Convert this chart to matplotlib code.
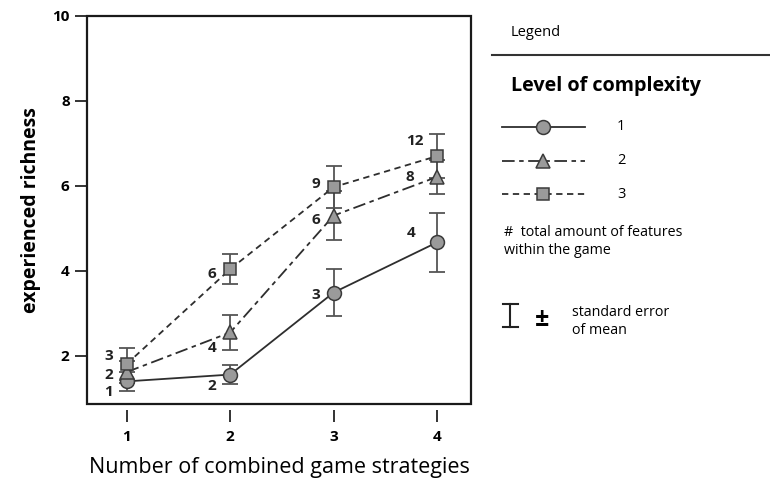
import matplotlib
matplotlib.use("Agg")
import matplotlib.pyplot as plt
from matplotlib.lines import Line2D
from matplotlib.patches import Rectangle

plt.rcParams["font.family"] = ["Open Sans", "DejaVu Sans"]

strategies = [1, 2, 3, 4]
levels = ["1", "2", "3"]

richness_l1 = [1.40, 1.56, 3.49, 4.67]
richness_l2 = [1.62, 2.55, 5.30, 6.21]
richness_l3 = [1.81, 4.04, 5.97, 6.70]

sem_l1 = [0.22, 0.23, 0.56, 0.70]
sem_l2 = [0.25, 0.42, 0.57, 0.40]
sem_l3 = [0.37, 0.36, 0.50, 0.51]

features_l1 = [1, 2, 3, 4]
features_l2 = [2, 4, 6, 8]
features_l3 = [3, 6, 9, 12]

INK = "#2e2e2e"
FILL = "#9a9a9a"

# (values, sem, feature counts, marker, size, linestyle, label offsets in pt)
series = [
    (richness_l1, sem_l1, features_l1, "o", 10.0, "-",
     [(-13, -8), (-13, -8.5), (-13, -2), (-19, 7)]),
    (richness_l2, sem_l2, features_l2, "^", 10.0, (0, (7, 2.5, 2.5, 2.5)),
     [(-13, -2), (-13, -11.5), (-13, -3.5), (-20, 0)]),
    (richness_l3, sem_l3, features_l3, "s", 8.5, (0, (3.5, 2.5)),
     [(-13, 6), (-13, -3.5), (-13, 2), (-16, 11)]),
]

fig = plt.figure(figsize=(7.7, 4.78), dpi=100)
ax = fig.add_axes([0.113, 0.155, 0.499, 0.812])

for ys, err, feats, marker, ms, ls, offs in series:
    ax.errorbar(strategies, ys, yerr=err, fmt="none", ecolor="#555555",
                elinewidth=1.3, capsize=5.5, capthick=1.3, zorder=2)
    ax.plot(strategies, ys, color=INK, linestyle=ls, linewidth=1.3,
            marker=marker, markersize=ms, markerfacecolor=FILL,
            markeredgecolor="#3a3a3a", markeredgewidth=1.1, zorder=3)
    for x, y, n, off in zip(strategies, ys, feats, offs):
        ax.annotate(str(n), (x, y), xytext=off, textcoords="offset points",
                    ha="center", va="center", fontsize=11, fontweight="bold",
                    color="#222222")

ax.set_xlim(0.616, 4.33)
ax.set_ylim(0.87, 10)
ax.set_xticks(strategies)
ax.set_yticks([2, 4, 6, 8, 10])

# box frame drawn separately so the x ticks can sit below it
for sp in ax.spines.values():
    sp.set_visible(False)
ax.spines["bottom"].set_position(("outward", 4.5))
ax.add_patch(Rectangle((0, 0), 1, 1, transform=ax.transAxes, fill=False,
                       edgecolor="#1a1a1a", linewidth=1.6, clip_on=False,
                       zorder=5))
ax.tick_params(axis="x", direction="out", length=8.5, width=1.4,
               color="#333333", pad=6, labelsize=11)
ax.tick_params(axis="y", direction="out", length=8.5, width=1.4,
               color="#333333", pad=4, labelsize=11)
for lab in ax.get_xticklabels() + ax.get_yticklabels():
    lab.set_fontweight("bold")

ax.set_ylabel("experienced richness", fontsize=14, fontweight="bold",
              labelpad=8)
ax.set_xlabel("Number of combined game strategies", fontsize=15.5,
              labelpad=9)

# legend panel, placed in pixel units of the figure
def fx(px):
    return px / 770


def fy(py):
    return 1 - py / 478


fig.text(fx(511), fy(32), "Legend", fontsize=10.5, va="center", ha="left")
fig.add_artist(Line2D([fx(492), fx(770)], [fy(55), fy(55)], color="#333333",
                      linewidth=1.5))
fig.text(fx(511), fy(86), "Level of complexity", fontsize=14.2,
         fontweight="bold", va="center", ha="left")

legend_rows = [127, 161, 194]
for (ys, err, feats, marker, ms, ls, offs), row, name in zip(series, legend_rows, levels):
    fig.add_artist(Line2D([fx(502), fx(585)], [fy(row), fy(row)], color=INK,
                          linestyle=ls, linewidth=1.3))
    fig.add_artist(Line2D([fx(543)], [fy(row)], marker=marker, markersize=ms,
                          markerfacecolor=FILL, markeredgecolor="#3a3a3a",
                          markeredgewidth=1.1, linestyle="none"))
    fig.text(fx(617), fy(row), name, fontsize=10.5, va="center", ha="left")

fig.text(fx(504), fy(233), "#  total amount of features", fontsize=10.3,
         va="center", ha="left")
fig.text(fx(504), fy(251), "within the game", fontsize=10.3, va="center",
         ha="left")

# error bar glyph
fig.add_artist(Line2D([fx(510), fx(510)], [fy(304), fy(327)], color="#222222",
                      linewidth=1.5))
for yy in (304, 327):
    fig.add_artist(Line2D([fx(503), fx(518)], [fy(yy), fy(yy)],
                          color="#222222", linewidth=1.5))
fig.text(fx(542), fy(319), "±", fontsize=18, fontweight="bold", va="center",
         ha="center")
fig.text(fx(572), fy(312), "standard error", fontsize=10.3, va="center",
         ha="left")
fig.text(fx(572), fy(330), "of mean", fontsize=10.3, va="center", ha="left")

fig.savefig("out.png", dpi=100)
